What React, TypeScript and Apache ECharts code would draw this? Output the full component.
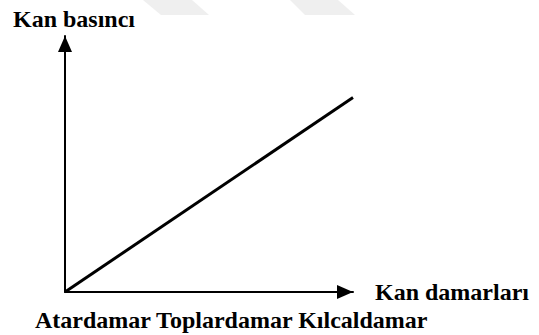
import React, { useEffect, useRef } from "react";
import * as echarts from "echarts";

// Vessel position along the circulation (x) and relative blood pressure (y)
const vesselPosition = [0, 10];
const bloodPressure = [0, 7.6];

const yAxisTitle = "Kan basıncı";
const xAxisTitle = "Kan damarları";
const vesselNames = ["Atardamar", "Toplardamar", "Kılcaldamar"];

const FONT = '"Liberation Serif", "Times New Roman", serif';

export default function App() {
  const ref = useRef<HTMLDivElement>(null);

  useEffect(() => {
    if (!ref.current) return;
    const chart = echarts.init(ref.current, null, { renderer: "svg" });

    const axisLine = {
      show: true,
      onZero: false,
      symbol: ["none", "triangle"],
      symbolSize: [14, 16],
      symbolOffset: [0, -8],
      lineStyle: { color: "#000", width: 2 },
    };

    chart.setOption({
      animation: false,
      backgroundColor: "#fff",
      grid: { left: 65, right: 186, top: 36, bottom: 43 },
      xAxis: {
        type: "value",
        min: 0,
        max: 10,
        axisLine,
        axisTick: { show: false },
        axisLabel: { show: false },
        splitLine: { show: false },
        name: xAxisTitle,
        nameLocation: "end",
        nameGap: 22,
        nameTextStyle: {
          fontFamily: FONT,
          fontWeight: "bold",
          fontSize: 24,
          color: "#000",
          verticalAlign: "middle",
        },
      },
      yAxis: {
        type: "value",
        min: 0,
        max: 10,
        axisLine,
        axisTick: { show: false },
        axisLabel: { show: false },
        splitLine: { show: false },
      },
      series: [
        {
          type: "line",
          data: vesselPosition.map((x, i) => [x, bloodPressure[i]]),
          symbol: "none",
          lineStyle: { color: "#000", width: 3 },
          silent: true,
        },
      ],
      graphic: [
        {
          type: "polygon",
          silent: true,
          z: -1,
          shape: { points: [[143, 0], [192, 0], [209, 15], [161, 15]] },
          style: { fill: "#efefef" },
        },
        {
          type: "polygon",
          silent: true,
          z: -1,
          shape: { points: [[290, 0], [338, 0], [355, 15], [305, 15]] },
          style: { fill: "#efefef" },
        },
        {
          type: "text",
          left: 13,
          top: 7,
          style: {
            text: yAxisTitle,
            font: `bold 24px ${FONT}`,
            fill: "#000",
          },
        },
        {
          type: "text",
          left: 35,
          top: 308,
          style: {
            text: vesselNames.join(" "),
            font: `bold 24px ${FONT}`,
            fill: "#000",
          },
        },
      ],
    });

    return () => chart.dispose();
  }, []);

  return (
    <div
      ref={ref}
      style={{ position: "fixed", left: 0, top: 0, width: 539, height: 335 }}
    />
  );
}
